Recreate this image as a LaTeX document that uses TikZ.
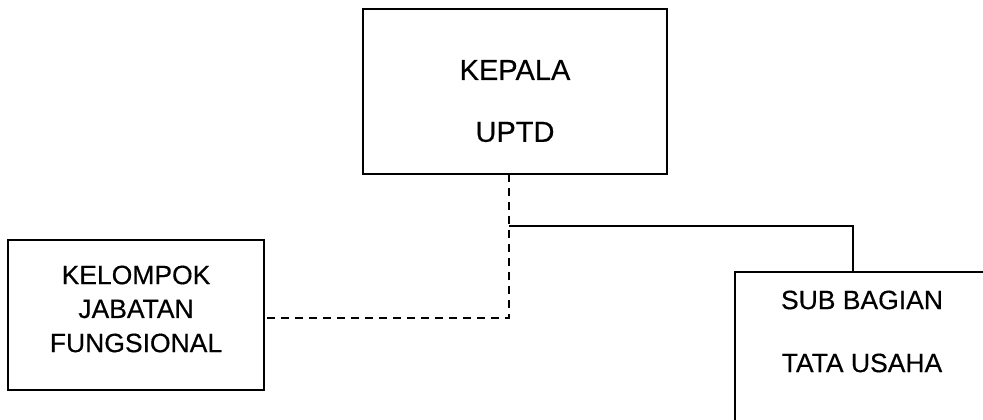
\documentclass[tikz,border=0pt]{standalone}
\usepackage{fontspec}
\setmainfont{Liberation Sans}[FakeBold=0.4]
\begin{document}
\begin{tikzpicture}[x=1pt,y=-1pt,
  unit/.style={draw=black,line width=1.9pt,inner sep=0pt,minimum width=#1},
  lbl/.style={font=\fontsize{26.5}{30}\selectfont,inner sep=0pt,anchor=center},
  biglbl/.style={lbl,font=\fontsize{29}{32}\selectfont},
  solidlink/.style={draw=black,line width=1.7pt},
  dashlink/.style={draw=black,line width=1.7pt,dash pattern=on 8pt off 6pt}]
\useasboundingbox (0,0) rectangle (983,420);
\clip (0,0) rectangle (983,420);
\fill[white] (0,0) rectangle (983,420);

% boxes
\node[unit=304pt,minimum height=165pt] (kepala) at (515,91.5) {};
\node[unit=256pt,minimum height=150pt] (kelompok) at (136,315) {};
\node[unit=256pt,minimum height=180pt] (tu) at (863,362) {};

% labels
\node[biglbl] (kepala1) at (515,70) {KEPALA};
\node[biglbl] (kepala2) at (515,132) {UPTD};
\node[lbl] (kel1) at (136,275) {KELOMPOK};
\node[lbl] (kel2) at (136,309) {JABATAN};
\node[lbl] (kel3) at (136,343) {FUNGSIONAL};
\node[lbl] (tu1) at (862,300) {SUB BAGIAN};
\node[lbl] (tu2) at (862,363) {TATA USAHA};

% connectors
\coordinate (top) at (509,174);
\coordinate (hub) at (509,226);
\coordinate (bend) at (509,318);
\coordinate (kelin) at (264,318);
\coordinate (tuin) at (853,272);
\path[dashlink] (top) -- (bend) -- (kelin);
\path[solidlink] (hub) -| (tuin);
\end{tikzpicture}
\end{document}
